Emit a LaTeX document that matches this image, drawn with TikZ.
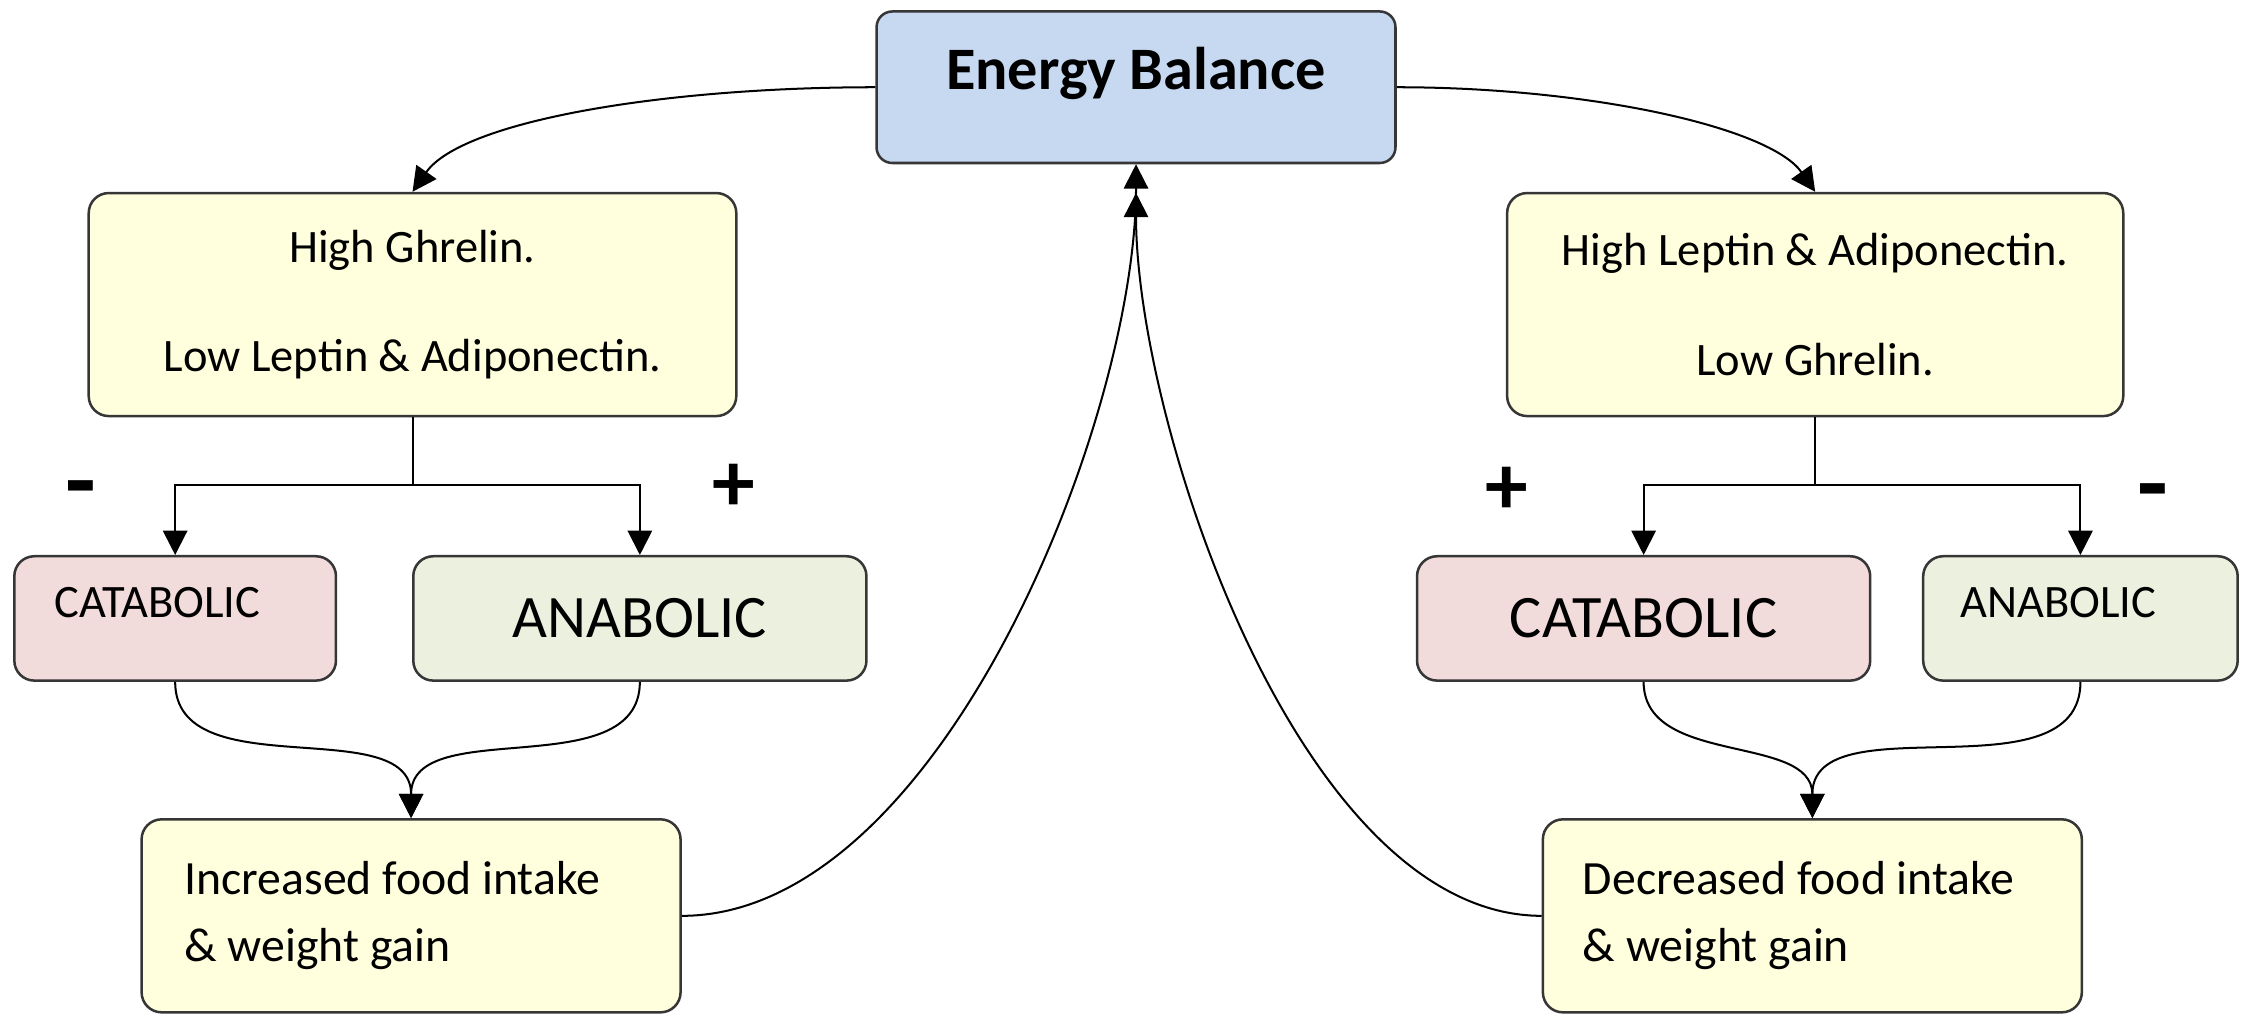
\documentclass[tikz,border=0pt]{standalone}
\usepackage{fontspec}
\setmainfont{Carlito}
\usepackage{tikz}
\usetikzlibrary{arrows.meta}
\definecolor{ebblue}{HTML}{C6D9F1}
\definecolor{hormyellow}{HTML}{FFFFDE}
\definecolor{catpink}{HTML}{F2DCDB}
\definecolor{anagreen}{HTML}{EBF1DE}
\definecolor{boxedge}{HTML}{363636}

\begin{document}
\begin{tikzpicture}[x=0.02cm, y=0.02cm, >={Triangle[length=0.34cm,width=0.34cm]},
  cbox/.style={draw=boxedge, line width=1pt, rounded corners=0.28cm, inner sep=0pt},
  ebbox/.style={cbox, fill=ebblue, rounded corners=0.22cm, minimum width=7.26cm, minimum height=2.12cm,
    font=\fontsize{24}{28}\selectfont\bfseries, text height=0.55cm, text depth=0.5cm},
  hormbox/.style={cbox, fill=hormyellow, minimum height=3.12cm, align=center, font=\fontsize{18.5}{22}\selectfont},
  catbox/.style={cbox, fill=catpink, minimum height=1.74cm},
  anabox/.style={cbox, fill=anagreen, minimum height=1.74cm},
  bigtxt/.style={font=\fontsize{24}{28}\selectfont},
  smalltxt/.style={font=\fontsize{18.5}{22}\selectfont, align=flush left, text height=0.42cm, text depth=0.44cm},
  outbox/.style={cbox, fill=hormyellow, minimum width=7.54cm, minimum height=2.7cm, align=flush left,
    font=\fontsize{19}{26.7}\selectfont},
  link/.style={->, line width=0.8pt},
  plain/.style={line width=0.8pt},
  sign/.style={inner sep=0pt}]
  \useasboundingbox (0,0) rectangle (1568,-711);

  \node[ebbox] (eb) at (794.5,-61) {Energy Balance};

  \node[hormbox, minimum width=9.06cm] (hiG) at (288.5,-213) {High Ghrelin.\\[0.76cm]Low Leptin \& Adiponectin.};
  \node[hormbox, minimum width=8.62cm] (hiL) at (1269.5,-213) {High Leptin \& Adiponectin.\\[0.76cm]Low Ghrelin.};

  \node[catbox, smalltxt, minimum width=4.5cm, inner xsep=0.56cm, text width=3.38cm] (catL) at (122.5,-432.5) {CATABOLIC};
  \node[anabox, bigtxt, minimum width=6.34cm] (anaL) at (447.5,-432.5) {ANABOLIC};
  \node[catbox, bigtxt, minimum width=6.34cm] (catR) at (1149.5,-432.5) {CATABOLIC};
  \node[anabox, smalltxt, minimum width=4.4cm, inner xsep=0.52cm, text width=3.36cm] (anaR) at (1455,-432.5) {ANABOLIC};

  \node[outbox, inner xsep=0.6cm, text width=6.34cm] (incB) at (287.5,-640.5) {Increased food intake\\\& weight gain};
  \node[outbox, inner xsep=0.56cm, text width=6.42cm] (decB) at (1267.5,-640.5) {Decreased food intake\\\& weight gain};

  \node[sign, font=\fontsize{40}{44}\selectfont\bfseries] (minL) at (56.5,-348) {-};
  \node[sign, font=\fontsize{34}{38}\selectfont\bfseries] (plusL) at (513.5,-341) {+};
  \node[sign, font=\fontsize{34}{38}\selectfont\bfseries] (plusR) at (1054,-343) {+};
  \node[sign, font=\fontsize{40}{44}\selectfont\bfseries] (minR) at (1506,-350) {-};

  \coordinate (gsplit) at (288.5,-339);
  \coordinate (lsplit) at (1269.5,-339);

  \draw[link] (eb.west) to[out=180, in=55, out distance=3cm, in distance=1.2cm] (hiG.north);
  \draw[link] (eb.east) to[out=0, in=125, out distance=2.7cm, in distance=1.1cm] (hiL.north);

  \draw[plain] (hiG.south) -- (gsplit);
  \draw[link] (gsplit) -| (catL.north);
  \draw[link] (gsplit) -| (anaL.north);
  \draw[plain] (hiL.south) -- (lsplit);
  \draw[link] (lsplit) -| (catR.north);
  \draw[link] (lsplit) -| (anaR.north);

  \draw[link] (catL.south) to[out=-90, in=90] (incB.north);
  \draw[link] (anaL.south) to[out=-90, in=90] (incB.north);
  \draw[link] (catR.south) to[out=-90, in=90] (decB.north);
  \draw[link] (anaR.south) to[out=-90, in=90] (decB.north);

  \draw[link] (incB.east) to[out=0, in=-90, out distance=3.6cm, in distance=3.6cm] (eb.south);
  \draw[link, shorten >=0.4cm] (decB.west) to[out=180, in=-90, out distance=3.4cm, in distance=3.6cm] (eb.south);
\end{tikzpicture}
\end{document}
